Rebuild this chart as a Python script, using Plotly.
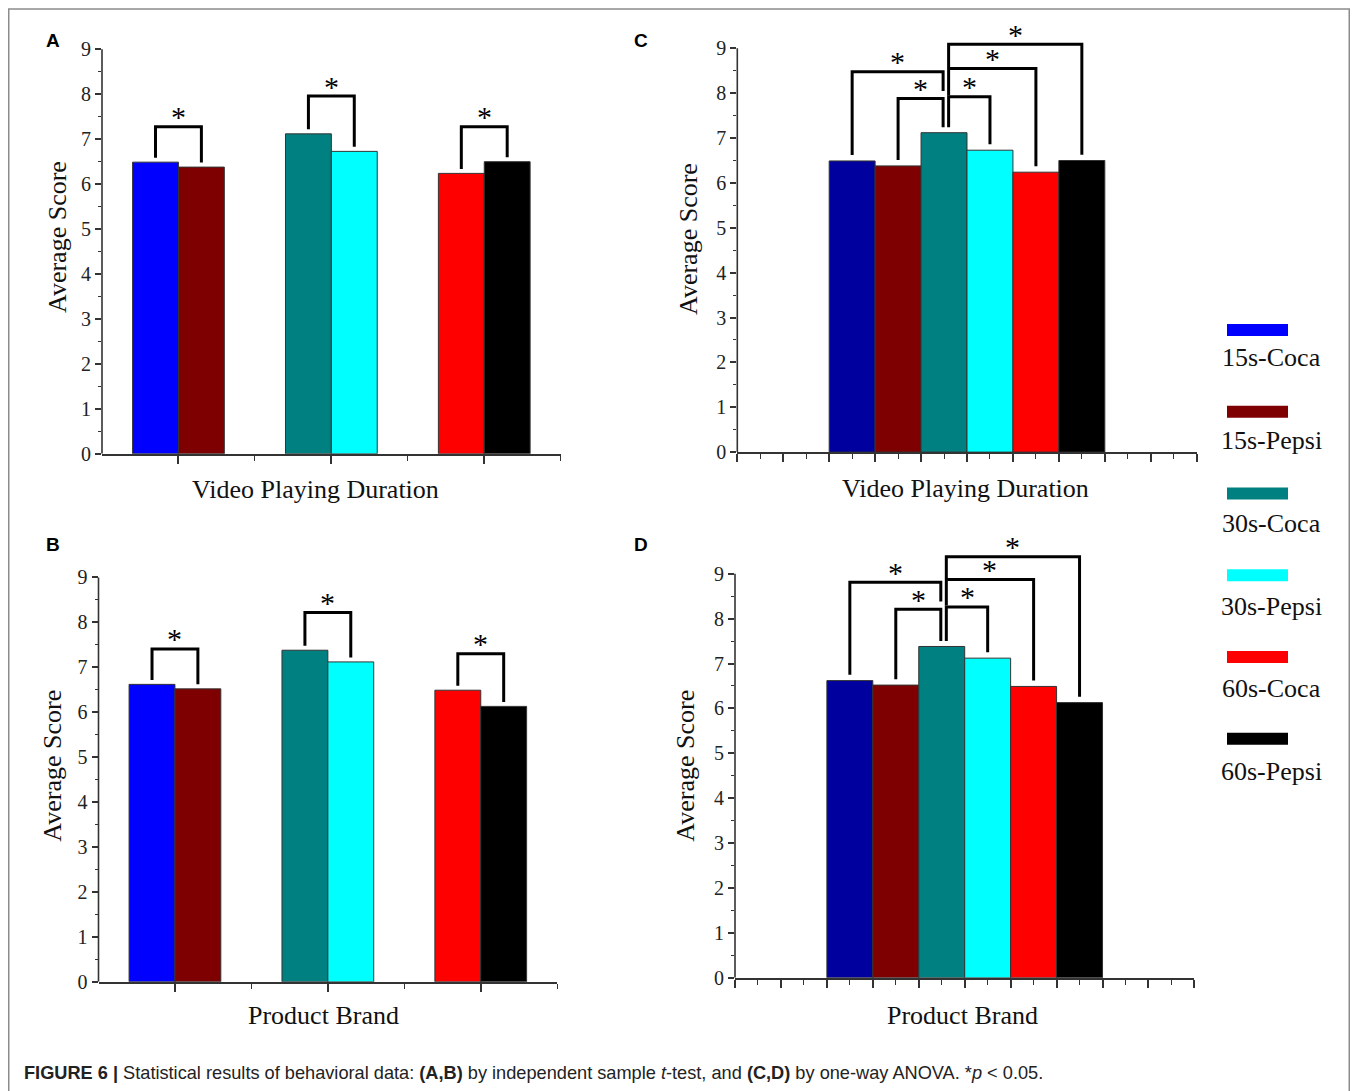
import plotly.graph_objects as go

# page offset: the figure div sits 8px inside the page body
OFF = 8
# measured vertical scale of the photographed page
VSCALE = 0.9905
W, H = 1358 - 2 * OFF, 1091

# ---------------- data ----------------
series = ["15s-Coca", "15s-Pepsi", "30s-Coca", "30s-Pepsi", "60s-Coca", "60s-Pepsi"]
durations = ["15s", "30s", "60s"]
brands = ["Coca", "Pepsi"]

# Average scores (panels A and C: video playing duration)
duration_scores = [6.49, 6.38, 7.12, 6.73, 6.24, 6.50]
# Average scores (panels B and D: product brand)
brand_scores = [6.62, 6.52, 7.38, 7.12, 6.49, 6.13]

colors_t = ["#0000FF", "#7F0000", "#008080", "#00FFFF", "#FF0000", "#000000"]
colors_anova = ["#00009E", "#7F0000", "#008080", "#00FFFF", "#FF0000", "#000000"]
legend_colors = colors_t

y_tick_vals = list(range(10))
y_minor_vals = [v + 0.5 for v in range(9)]

# significance brackets (bracket top heights)
ttest_tops_A = [7.28, 7.96, 7.28]
ttest_tops_B = [7.41, 8.22, 7.30]
anova_ref = 2                      # 30s-Coca compared against the others
anova_left = [1, 0]                # partners on the left, inner to outer
anova_right = [3, 4, 5]            # partners on the right, inner to outer
anova_tops_C = {1: 7.88, 0: 8.48, 3: 7.92, 4: 8.55, 5: 9.09}
anova_tops_D = {1: 8.21, 0: 8.81, 3: 8.26, 4: 8.87, 5: 9.38}

SERIF = "Liberation Serif, Times New Roman, serif"
SANS = "Liberation Sans, Arial, sans-serif"
AXC = "#333333"
YMAX = 9.8

# panel pixel boxes (picture pixels): (x_left, x_right, y_of_0, y_of_9)
panels = [
    dict(letter="A", kind="t", scores=duration_scores, tops=ttest_tops_A,
         box=(102.0, 560.7, 454.0, 49.3), xtitle="Video Playing Duration",
         xt=(315, 490), yt=(58, 237), lt=(53, 40)),
    dict(letter="B", kind="t", scores=brand_scores, tops=ttest_tops_B,
         box=(98.5, 557.2, 982.3, 577.7), xtitle="Product Brand",
         xt=(323, 1016), yt=(53, 766), lt=(53, 545)),
    dict(letter="C", kind="a", scores=duration_scores, tops=anova_tops_C,
         box=(737.3, 1196.7, 452.3, 48.3), xtitle="Video Playing Duration",
         xt=(965, 489), yt=(689, 239), lt=(641, 40)),
    dict(letter="D", kind="a", scores=brand_scores, tops=anova_tops_D,
         box=(735.0, 1194.4, 978.3, 574.0), xtitle="Product Brand",
         xt=(962, 1016), yt=(686, 766), lt=(641, 545)),
]


def pxx(p):
    return (p - OFF) / W


def pxy(p):
    return 1 - (p / VSCALE - OFF) / H


STAR = dict(family=SERIF, size=30, color="black")

fig = go.Figure()
shapes = []
annotations = []

for k, pn in enumerate(panels, start=1):
    sx = "" if k == 1 else str(k)
    xa, ya = "x" + sx, "y" + sx
    xl, xr, y0, y9 = pn["box"]
    unit = (y0 - y9) / 9.0
    top_px = y0 - YMAX * unit
    sc = pn["scores"]

    if pn["kind"] == "t":
        xs = list(range(len(durations)))
        fig.add_trace(go.Bar(x=xs, y=sc[0::2], name=brands[0], offset=-0.3, width=0.3,
                             marker=dict(color=colors_t[0::2], line=dict(color=AXC, width=1)),
                             xaxis=xa, yaxis=ya, showlegend=False))
        fig.add_trace(go.Bar(x=xs, y=sc[1::2], name=brands[1], offset=0.0, width=0.3,
                             marker=dict(color=colors_t[1::2], line=dict(color=AXC, width=1)),
                             xaxis=xa, yaxis=ya, showlegend=False))
        xrange = [-0.5, len(durations) - 0.5]
        major = xs
        minor = [v + 0.5 for v in xs]
        for g in xs:
            a, b = sc[2 * g], sc[2 * g + 1]
            t = pn["tops"][g]
            x1, x2 = g - 0.15, g + 0.15
            shapes.append(dict(type="path", xref=xa, yref=ya,
                               path=f"M {x1},{a + 0.1} L {x1},{t} L {x2},{t} L {x2},{b + 0.1}",
                               line=dict(color="black", width=3)))
            annotations.append(dict(x=g, y=t, xref=xa, yref=ya, text="*", showarrow=False,
                                    yanchor="middle", yshift=10, font=STAR))
    else:
        xs = list(range(len(series)))
        fig.add_trace(go.Bar(x=xs, y=sc, name="ANOVA", offset=-0.5, width=1.0,
                             marker=dict(color=colors_anova, line=dict(color=AXC, width=1)),
                             hovertext=series, xaxis=xa, yaxis=ya, showlegend=False))
        xrange = [-2.5, len(series) + 1.5]
        major = [v - 0.5 for v in range(-2, len(series) + 3)]
        minor = list(range(-2, len(series) + 2))
        tops = pn["tops"]
        for side, partners, tx, gap in (("L", anova_left, anova_ref - 0.02, 0.17),
                                        ("R", anova_right, anova_ref + 0.1, 0.03)):
            prev = None
            for p in partners:
                t = tops[p]
                tb = sc[anova_ref] + 0.12 if prev is None else prev + gap
                pb = sc[p] + 0.13
                shapes.append(dict(type="path", xref=xa, yref=ya,
                                   path=f"M {p},{pb} L {p},{t} L {tx},{t} L {tx},{tb}",
                                   line=dict(color="black", width=3)))
                annotations.append(dict(x=(p + tx) / 2, y=t, xref=xa, yref=ya, text="*",
                                        showarrow=False, yanchor="middle", yshift=10,
                                        font=STAR))
                prev = t

    # y axis line (only 0..9)
    shapes.append(dict(type="line", xref=xa + " domain", yref=ya, x0=0, x1=0, y0=0, y1=9,
                       line=dict(color=AXC, width=1.6)))

    fig.layout["xaxis" + sx] = dict(
        domain=[pxx(xl), pxx(xr)], range=xrange, anchor=ya,
        showline=True, linecolor=AXC, linewidth=1.6, mirror=False,
        ticks="outside", tickmode="array", tickvals=major, ticklen=8, tickwidth=1.6,
        tickcolor=AXC, showticklabels=False, showgrid=False, zeroline=False,
        minor=dict(tickmode="array", tickvals=minor, ticks="outside", ticklen=5,
                   tickwidth=1.4, tickcolor=AXC, showgrid=False),
        fixedrange=True)
    fig.layout["yaxis" + sx] = dict(
        domain=[pxy(y0), pxy(top_px)], range=[0, YMAX], anchor=xa,
        showline=False, ticks="outside", tickmode="array", tickvals=y_tick_vals,
        ticklen=6, tickwidth=1.6, tickcolor=AXC, showgrid=False, zeroline=False,
        tickfont=dict(family=SERIF, size=20, color="#222222"),
        minor=dict(tickmode="array", tickvals=y_minor_vals, ticks="outside", ticklen=3,
                   tickwidth=1.4, tickcolor=AXC, showgrid=False),
        fixedrange=True)

    annotations.append(dict(x=pxx(pn["xt"][0]), y=pxy(pn["xt"][1]), xref="paper", yref="paper",
                            text=pn["xtitle"], showarrow=False, xanchor="center", yanchor="middle",
                            font=dict(family=SERIF, size=26, color="#111111")))
    annotations.append(dict(x=pxx(pn["yt"][0]), y=pxy(pn["yt"][1]), xref="paper", yref="paper",
                            text="Average Score", textangle=-90, showarrow=False,
                            xanchor="center", yanchor="middle",
                            font=dict(family=SERIF, size=26, color="#111111")))
    annotations.append(dict(x=pxx(pn["lt"][0]), y=pxy(pn["lt"][1]), xref="paper", yref="paper",
                            text="<b>" + pn["letter"] + "</b>", showarrow=False,
                            xanchor="center", yanchor="middle",
                            font=dict(family=SANS, size=19, color="black")))

# ---------------- legend (swatch above label) ----------------
for i, (name, col) in enumerate(zip(series, legend_colors)):
    sw_top = 324 + i * 81.8
    lab_y = 358 + i * 82.8
    shapes.append(dict(type="rect", xref="paper", yref="paper",
                       x0=pxx(1227), x1=pxx(1288), y0=pxy(sw_top + 12), y1=pxy(sw_top),
                       fillcolor=col, line=dict(width=0)))
    annotations.append(dict(x=pxx(1271), y=pxy(lab_y), xref="paper", yref="paper",
                            text=name, showarrow=False, xanchor="center", yanchor="middle",
                            font=dict(family=SERIF, size=26, color="#111111")))

# ---------------- frame and caption ----------------
shapes.append(dict(type="rect", xref="paper", yref="paper",
                   x0=pxx(8.75), x1=1 - 0.75 / W, y0=-0.05, y1=pxy(9),
                   line=dict(color="#8c8c8c", width=1.5), fillcolor="rgba(0,0,0,0)"))
annotations.append(dict(
    x=pxx(22), y=pxy(1074), xref="paper", yref="paper", xanchor="left", yanchor="middle",
    showarrow=False,
    text="<b>FIGURE 6 |</b> Statistical results of behavioral data: <b>(A,B)</b> by independent "
         "sample <i>t</i>-test, and <b>(C,D)</b> by one-way ANOVA. *<i>p</i> &lt; 0.05.",
    font=dict(family=SANS, size=18.2, color="#222222")))

fig.update_layout(
    width=W, height=H, margin=dict(l=0, r=0, t=0, b=0),
    paper_bgcolor="white", plot_bgcolor="rgba(0,0,0,0)",
    barmode="overlay", showlegend=False,
    shapes=shapes, annotations=annotations,
)

fig.write_html("out.html")
